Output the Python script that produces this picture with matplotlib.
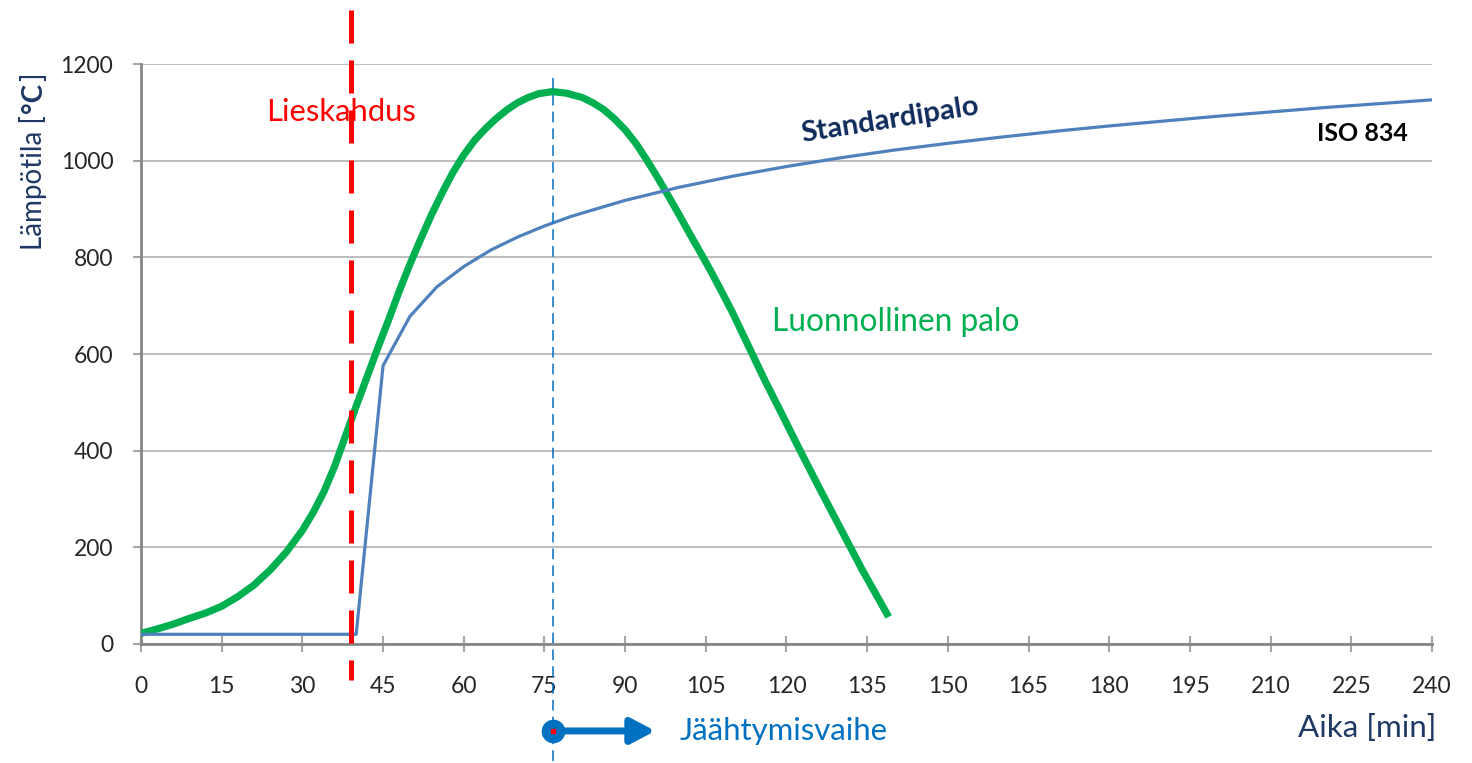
import numpy as np
import matplotlib
matplotlib.use("Agg")
import matplotlib.pyplot as plt

plt.rcParams['font.family'] = ['Lato', 'DejaVu Sans']

# standard fire curve (ISO 834), started at flashover
std_time = [0, 40, 45, 50, 55, 60, 65, 70, 75, 80, 90, 100, 110, 120, 130,
            140, 150, 160, 170, 180, 190, 200, 210, 220, 230, 240]
std_temp = [20, 20, 576, 678, 739, 781, 815, 842, 865, 885, 918, 945, 968, 988,
            1006, 1022, 1036, 1049, 1061, 1072, 1082, 1092, 1101, 1110, 1118, 1126]

# natural fire
fire_time = [0, 3, 6, 9, 12, 15, 18, 21, 24, 27, 30, 32, 34, 36, 38, 40, 42,
             44, 46, 48, 50, 52, 54, 56, 58, 60, 62, 64, 66, 68, 70, 72, 74,
             76.5, 79, 82, 84, 86, 88, 90, 92, 94, 96, 98, 100, 102, 104, 106,
             108, 110, 113, 116, 119, 122, 126, 130, 134, 139]
fire_temp = [22, 31, 41, 53, 64, 78, 98, 122, 153, 190, 235, 272, 315, 368,
             430, 492, 552, 612, 670, 730, 786, 838, 888, 934, 976, 1012, 1042,
             1066, 1087, 1105, 1120, 1131, 1139, 1143, 1140, 1131, 1120, 1106,
             1087, 1064, 1036, 1002, 966, 928, 889, 849, 810, 770, 728, 685,
             615, 545, 479, 412, 325, 240, 155, 56]

flashover = 39
peak_time = 76.5

x_ticks = np.arange(0, 241, 15)
y_ticks = np.arange(0, 1201, 200)

navy = '#1F3864'
blue = '#0070C0'
green = '#00B050'

fig = plt.figure(figsize=(14.72, 7.63), dpi=100)
ax = fig.add_axes([0.0958, 0.156, 0.877, 0.760])

ax.plot(fire_time, fire_temp, color=green, lw=5.2, solid_capstyle='butt',
        solid_joinstyle='round', zorder=3)
ax.plot(std_time, std_temp, color='#4F81BD', lw=2.3, zorder=4)

# flashover marker
ax.plot([flashover, flashover], [1312, -74], color='#FF0000', lw=3.6,
        dashes=(6.6, 3.4), clip_on=False, zorder=6)

# start of cooling phase
ax.plot([peak_time, peak_time], [1171, -270], color=blue, lw=1.1,
        dashes=(7, 4), clip_on=False, zorder=5)
ax.annotate('', xy=(95.6, -180), xytext=(peak_time, -180),
            arrowprops=dict(arrowstyle='-|>,head_length=0.72,head_width=0.38',
                            lw=5, color=blue, shrinkA=0, shrinkB=0,
                            mutation_scale=20),
            annotation_clip=False, zorder=6)
ax.plot(peak_time, -180, 'o', ms=16, color=blue, clip_on=False, zorder=7)
ax.plot(peak_time, -180, 's', ms=2.5, color='#FF0000', clip_on=False, zorder=8)

ax.set_xlim(0, 240)
ax.set_ylim(0, 1200)
ax.set_xticks(x_ticks)
ax.set_yticks(y_ticks)
ax.grid(axis='y', color='#BFBFBF', lw=1.5)
ax.set_axisbelow(True)
for s in ['top', 'right']:
    ax.spines[s].set_visible(False)
for s in ['left', 'bottom']:
    ax.spines[s].set_color('#868686')
    ax.spines[s].set_linewidth(2)
ax.tick_params(axis='x', direction='inout', length=12, width=1.5,
               color='#A6A6A6', labelsize=16.5, labelcolor='#262626', pad=17)
ax.tick_params(axis='y', direction='out', length=6, width=1.5,
               color='#A6A6A6', labelsize=16.5, labelcolor='#262626', pad=14)

ax.text(37.2, 1101, 'Lieskahdus', color='#FF0000', fontsize=22.3,
        ha='center', va='center')
ax.text(139.2, 1084, 'Standardipalo', color='#0F2B5B', fontsize=21,
        fontweight='bold', ha='center', va='center', rotation=9)
ax.text(227, 1057, 'ISO 834', color='black', fontsize=18, fontweight='bold',
        ha='center', va='center')
ax.text(117.3, 666, 'Luonnollinen palo', color=green, fontsize=22.8,
        ha='left', va='center')
ax.text(240.9, -174, 'Aika [min]', color=navy, fontsize=22.6,
        ha='right', va='center', clip_on=False)
ax.text(100.2, -180, 'Jäähtymisvaihe', color=blue, fontsize=22.4,
        ha='left', va='center', clip_on=False)

# y label with bold unit
W, H = fig.get_size_inches() * fig.dpi
x0 = 42 / W
y0 = (H - 250) / H
renderer = fig.canvas.get_renderer()
for part, weight in [('Lämpötila [', 'normal'), ('°C', 'bold'), (']', 'normal')]:
    t = fig.text(x0, y0, part, color=navy, fontsize=20, fontweight=weight,
                 rotation=90, rotation_mode='anchor', ha='left', va='baseline')
    bb = t.get_window_extent(renderer)
    y0 = bb.y1 / H + 2 / H

fig.savefig('out.png', dpi=100)
